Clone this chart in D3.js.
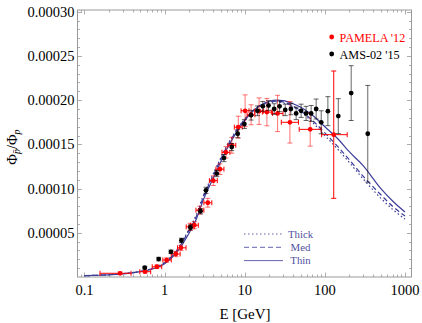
<!DOCTYPE html>
<html>
<head>
<meta charset="utf-8">
<script src="https://cdn.jsdelivr.net/npm/d3@7"></script>
<style>
  body { margin: 0; background: #fff; }
  svg, svg text { font-family: "Liberation Serif", serif; }
</style>
</head>
<body>
<div id="chart"></div>
<script>
// model curves (E in GeV, pbar/p ratio)
const curveE = [0.1, 0.15, 0.2, 0.3, 0.5, 0.7, 1, 1.5, 2, 2.5, 3, 4, 5, 6, 7, 8, 10, 12, 15, 20, 25, 30, 40, 50, 70, 100, 150, 200, 300, 500, 700, 1000];
const thin  = [1.5e-6, 2.0e-6, 2.5e-6, 3.5e-6, 6.0e-6, 9.0e-6, 1.5e-5, 3.1e-5, 4.9e-5, 6.6e-5, 8.6e-5, 1.11e-4, 1.30e-4, 1.45e-4, 1.56e-4, 1.645e-4, 1.77e-4, 1.855e-4, 1.93e-4, 1.985e-4, 2.0e-4, 1.995e-4, 1.96e-4, 1.92e-4, 1.83e-4, 1.70e-4, 1.55e-4, 1.42e-4, 1.26e-4, 1.0e-4, 8.6e-5, 7.35e-5];
const med   = [1.5e-6, 2.0e-6, 2.6e-6, 3.7e-6, 6.3e-6, 9.5e-6, 1.6e-5, 3.3e-5, 5.2e-5, 6.9e-5, 8.9e-5, 1.14e-4, 1.33e-4, 1.475e-4, 1.58e-4, 1.665e-4, 1.785e-4, 1.86e-4, 1.93e-4, 1.98e-4, 1.99e-4, 1.98e-4, 1.935e-4, 1.88e-4, 1.77e-4, 1.63e-4, 1.46e-4, 1.33e-4, 1.14e-4, 9.3e-5, 8.0e-5, 6.9e-5];
const thick = [1.5e-6, 2.0e-6, 2.6e-6, 3.8e-6, 6.5e-6, 9.8e-6, 1.65e-5, 3.4e-5, 5.35e-5, 7.1e-5, 9.1e-5, 1.16e-4, 1.345e-4, 1.49e-4, 1.59e-4, 1.67e-4, 1.785e-4, 1.86e-4, 1.925e-4, 1.97e-4, 1.98e-4, 1.97e-4, 1.925e-4, 1.87e-4, 1.75e-4, 1.60e-4, 1.43e-4, 1.30e-4, 1.11e-4, 8.9e-5, 7.65e-5, 6.55e-5];

// PAMELA 2012
const pamE   = [0.278, 0.57, 0.80, 1.06, 1.38, 1.60, 2.08, 2.35, 2.76, 3.46, 4.05, 4.9, 5.83, 6.9, 8.3, 10.1, 12.0, 15.1, 18.9, 25.7, 36.6, 65.6, 129];
const pamLo  = [0.156, 0.49, 0.70, 0.95, 1.21, 1.45, 1.86, 2.10, 2.46, 3.09, 3.62, 4.37, 5.20, 6.16, 7.41, 9.0, 10.7, 13.3, 16.6, 22.2, 28.6, 47.8, 91];
const pamHi  = [0.381, 0.67, 0.92, 1.21, 1.56, 1.85, 2.33, 2.63, 3.09, 3.88, 4.54, 5.5, 6.53, 7.73, 9.3, 11.3, 13.4, 17.2, 21.5, 30.0, 46.8, 89.8, 190];
const pamV   = [4.2e-6, 6.0e-6, 1.16e-5, 1.92e-5, 2.6e-5, 3.3e-5, 5.67e-5, 5.86e-5, 7.56e-5, 8.4e-5, 1.09e-4, 1.22e-4, 1.41e-4, 1.49e-4, 1.695e-4, 1.88e-4, 1.835e-4, 1.876e-4, 1.865e-4, 1.85e-4, 1.75e-4, 1.67e-4, 1.61e-4];
const pamErr = [1.5e-6, 1.5e-6, 2e-6, 2.5e-6, 3e-6, 3e-6, 4e-6, 4e-6, 4.5e-6, 5e-6, 5.5e-6, 6e-6, 6.5e-6, 9e-6, 1.24e-5, 1.8e-5, 1.13e-5, 1.5e-5, 1.55e-5, 2.05e-5, 2.35e-5, 1.9e-5, 7.2e-5];

// AMS-02 2015
const amsE   = [0.565, 0.843, 1.20, 1.62, 2.10, 2.80, 3.28, 4.48, 5.50, 6.88, 8.17, 9.9, 12.0, 14.4, 16.8, 19.8, 23.3, 27.2, 32.0, 37.6, 43.8, 50.5, 58.3, 67.4, 77.8, 90.0, 109, 147, 213, 343];
const amsV   = [1.05e-5, 2.03e-5, 2.85e-5, 4.14e-5, 5.6e-5, 7.44e-5, 9.8e-5, 1.17e-4, 1.345e-4, 1.47e-4, 1.62e-4, 1.73e-4, 1.83e-4, 1.88e-4, 1.93e-4, 1.94e-4, 1.90e-4, 1.93e-4, 1.89e-4, 1.90e-4, 1.85e-4, 1.88e-4, 1.85e-4, 1.85e-4, 1.90e-4, 1.75e-4, 1.876e-4, 1.82e-4, 2.08e-4, 1.62e-4];
const amsErr = [1.5e-6, 2e-6, 2e-6, 2.5e-6, 3e-6, 3e-6, 3.5e-6, 3.5e-6, 4e-6, 4e-6, 4.5e-6, 5e-6, 5.5e-6, 5.5e-6, 5.5e-6, 5.5e-6, 6e-6, 6e-6, 6.5e-6, 6.5e-6, 7e-6, 7.5e-6, 8e-6, 9e-6, 1.13e-5, 1.3e-5, 1.64e-5, 1.97e-5, 3.1e-5, 5.47e-5];

const yTicks = [0.00005, 0.0001, 0.00015, 0.0002, 0.00025, 0.0003];
const xTicks = [0.1, 1, 10, 100, 1000];

const width = 422, height = 323;
const plotLeft = 77.5, plotRight = 411.5, plotTop = 10, plotBottom = 277;
const lineColor = "#3d3d99";
const serif = "Liberation Serif";

const svg = d3.select("#chart").append("svg")
  .attr("width", width)
  .attr("height", height)
  .attr("font-family", serif);

const x = d3.scaleLog().domain([0.0818, 1205]).range([plotLeft, plotRight]);
const y = d3.scaleLinear().domain([0, 0.000302]).range([plotBottom, plotTop]);

svg.append("clipPath").attr("id", "clip")
  .append("rect").attr("x", plotLeft).attr("y", plotTop)
  .attr("width", plotRight - plotLeft).attr("height", plotBottom - plotTop);

// frame ticks (inside, all four sides)
const tickG = svg.append("g").attr("stroke", "#999").attr("stroke-width", 0.8);
const xMinor = [];
for (let p = -2; p <= 3; p++) {
  for (let m = 1; m < 10; m++) {
    const v = m * Math.pow(10, p);
    if (v > x.domain()[0] && v < x.domain()[1]) xMinor.push({v: v, major: m === 1});
  }
}
xMinor.forEach(t => {
  const len = t.major ? 4.5 : 2.5;
  const px = Math.round(x(t.v)) + 0.5;
  tickG.append("line").attr("x1", px).attr("x2", px).attr("y1", plotBottom).attr("y2", plotBottom - len);
  tickG.append("line").attr("x1", px).attr("x2", px).attr("y1", plotTop).attr("y2", plotTop + len);
});
d3.range(1, 31).forEach(i => {
  const v = i * 0.00001;
  const len = i % 5 === 0 ? 4.5 : 2.5;
  const py = Math.round(y(v)) + 0.5;
  tickG.append("line").attr("x1", plotLeft).attr("x2", plotLeft + len).attr("y1", py).attr("y2", py);
  tickG.append("line").attr("x1", plotRight).attr("x2", plotRight - len).attr("y1", py).attr("y2", py);
});

svg.append("rect")
  .attr("x", plotLeft).attr("y", plotTop)
  .attr("width", plotRight - plotLeft).attr("height", plotBottom - plotTop)
  .attr("fill", "none").attr("stroke", "#999").attr("stroke-width", 1);

// tick labels
svg.append("g").selectAll("text").data(yTicks).join("text")
  .attr("x", plotLeft - 3)
  .attr("y", d => y(d) + 5)
  .attr("text-anchor", "end")
  .attr("font-size", 14.5)
  .text(d3.format(".5f"));

svg.append("g").selectAll("text").data(xTicks).join("text")
  .attr("x", d => x(d))
  .attr("y", 294.5)
  .attr("text-anchor", "middle")
  .attr("font-size", 14.5)
  .text(d => String(d));

// axis titles
svg.append("text")
  .attr("x", 245).attr("y", 319)
  .attr("text-anchor", "middle")
  .attr("font-size", 15)
  .text("E [GeV]");

const yl = svg.append("text")
  .attr("transform", "translate(17,147) rotate(-90)")
  .attr("text-anchor", "middle")
  .attr("font-size", 14.5);
yl.append("tspan").text("\u03A6");
yl.append("tspan").attr("font-size", 10).attr("font-style", "italic").attr("dy", 3).text("p\u0304");
yl.append("tspan").attr("dy", -3).text("/\u03A6");
yl.append("tspan").attr("font-size", 10).attr("font-style", "italic").attr("dy", 3).text("p");

// model curves
const plot = svg.append("g").attr("clip-path", "url(#clip)");
const line = d3.line()
  .x(d => x(d[0]))
  .y(d => y(d[1]))
  .curve(d3.curveMonotoneX);

const models = [
  {name: "Thick", vals: thick, dash: "1.5,2.5"},
  {name: "Med", vals: med, dash: "5,3"},
  {name: "Thin", vals: thin, dash: null}
];
models.forEach(m => {
  plot.append("path")
    .datum(curveE.map((e, i) => [e, m.vals[i]]))
    .attr("d", line)
    .attr("fill", "none")
    .attr("stroke", lineColor)
    .attr("stroke-width", 1.2)
    .attr("stroke-dasharray", m.dash);
});

// PAMELA points
const cap = 2.5;
const pam = pamE.map((e, i) => ({e: e, lo: pamLo[i], hi: pamHi[i], v: pamV[i], err: pamErr[i], last: i === pamE.length - 1}));
const pamG = plot.append("g");
pam.forEach(d => {
  const g = pamG.append("g").attr("stroke", "#ff0000").attr("stroke-width", 1);
  const vg = g.append("g").attr("stroke-opacity", d.last ? 1 : 0.55);
  vg.append("line").attr("x1", x(d.e)).attr("x2", x(d.e)).attr("y1", y(d.v - d.err)).attr("y2", y(d.v + d.err));
  vg.append("line").attr("x1", x(d.e) - cap).attr("x2", x(d.e) + cap).attr("y1", y(d.v - d.err)).attr("y2", y(d.v - d.err));
  vg.append("line").attr("x1", x(d.e) - cap).attr("x2", x(d.e) + cap).attr("y1", y(d.v + d.err)).attr("y2", y(d.v + d.err));
  g.append("line").attr("x1", x(d.lo)).attr("x2", x(d.hi)).attr("y1", y(d.v)).attr("y2", y(d.v));
  g.append("line").attr("x1", x(d.lo)).attr("x2", x(d.lo)).attr("y1", y(d.v) - cap).attr("y2", y(d.v) + cap);
  g.append("line").attr("x1", x(d.hi)).attr("x2", x(d.hi)).attr("y1", y(d.v) - cap).attr("y2", y(d.v) + cap);
});
pamG.selectAll("circle").data(pam).join("circle")
  .attr("cx", d => x(d.e)).attr("cy", d => y(d.v)).attr("r", 2.4)
  .attr("fill", "#ff0000");

// AMS-02 points
const ams = amsE.map((e, i) => ({e: e, v: amsV[i], err: amsErr[i]}));
const amsG = plot.append("g");
ams.forEach(d => {
  const g = amsG.append("g").attr("stroke", "#000").attr("stroke-width", 1).attr("stroke-opacity", 0.6);
  g.append("line").attr("x1", x(d.e)).attr("x2", x(d.e)).attr("y1", y(d.v - d.err)).attr("y2", y(d.v + d.err));
  g.append("line").attr("x1", x(d.e) - cap).attr("x2", x(d.e) + cap).attr("y1", y(d.v - d.err)).attr("y2", y(d.v - d.err));
  g.append("line").attr("x1", x(d.e) - cap).attr("x2", x(d.e) + cap).attr("y1", y(d.v + d.err)).attr("y2", y(d.v + d.err));
});
amsG.selectAll("circle").data(ams).join("circle")
  .attr("cx", d => x(d.e)).attr("cy", d => y(d.v)).attr("r", 2.4)
  .attr("fill", "#000");

// data legend
const dataLegend = [
  {label: "PAMELA '12", color: "#ff0000"},
  {label: "AMS-02 '15", color: "#000"}
];
dataLegend.forEach((d, i) => {
  const ly = 37 + i * 17;
  svg.append("circle").attr("cx", 331.7).attr("cy", ly).attr("r", 2.4).attr("fill", d.color);
  svg.append("text").attr("x", 339.5).attr("y", ly + 4.5)
    .attr("font-size", 12.2).attr("fill", d.color).text(d.label);
});

// model legend
models.forEach((m, i) => {
  const ly = 234 + i * 13.3;
  svg.append("line").attr("x1", 244).attr("x2", 283).attr("y1", ly).attr("y2", ly)
    .attr("stroke", lineColor).attr("stroke-width", 1).attr("stroke-opacity", 0.8)
    .attr("stroke-dasharray", m.dash);
  svg.append("text").attr("x", 300.5).attr("y", ly + 3.7)
    .attr("text-anchor", "middle").attr("font-size", 10.8)
    .attr("fill", "#5050a0").text(m.name);
});
</script>
</body>
</html>
